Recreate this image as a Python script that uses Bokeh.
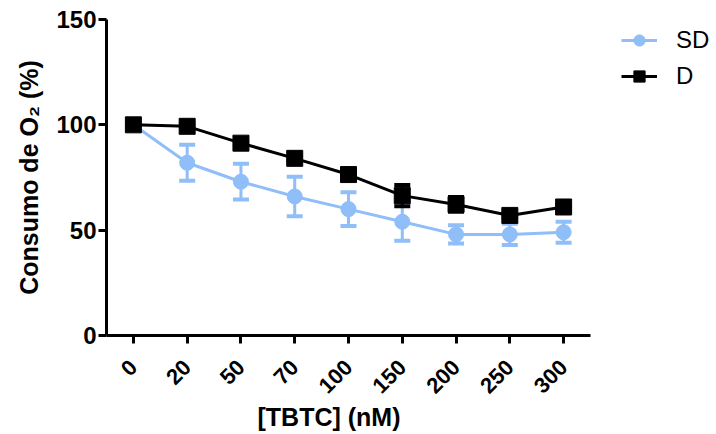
from bokeh.plotting import figure
from bokeh.models import FactorRange, Range1d, Whisker, ColumnDataSource, Legend, LegendItem, FixedTicker, Title
from bokeh.embed import file_html
from bokeh.resources import INLINE
import math

categories = ["0", "20", "50", "70", "100", "150", "200", "250", "300"]
sd_values = [100, 82, 73, 66, 60, 54, 48, 48, 49]
sd_errors = [0, 8.5, 8.5, 9.4, 8, 9, 4.3, 5, 5]
d_values = [100, 99.3, 91.3, 84.1, 76.4, 66.4, 62.2, 57, 61]
d_errors = [0, 1, 1, 1, 1, 5, 3.5, 1, 1]

BLUE = "#8fbef8"
FONT = "Liberation Sans"

p = figure(frame_width=484, frame_height=316, x_range=FactorRange(*categories, range_padding=0),
           y_range=Range1d(0, 150), output_backend="svg", toolbar_location=None,
           min_border_left=106, min_border_right=120, min_border_top=19, min_border_bottom=99)
p.outline_line_color = None
p.grid.visible = False
p.background_fill_color = "white"

sd_src = ColumnDataSource(dict(x=categories, y=sd_values,
                               lo=[v - e for v, e in zip(sd_values, sd_errors)],
                               hi=[v + e for v, e in zip(sd_values, sd_errors)]))
d_src = ColumnDataSource(dict(x=categories, y=d_values,
                              lo=[v - e for v, e in zip(d_values, d_errors)],
                              hi=[v + e for v, e in zip(d_values, d_errors)]))

sd_w = Whisker(source=sd_src, base="x", upper="hi", lower="lo", line_color=BLUE, line_width=3)
sd_w.upper_head.size = 16
sd_w.lower_head.size = 16
sd_w.upper_head.line_color = BLUE
sd_w.lower_head.line_color = BLUE
sd_w.upper_head.line_width = 4
sd_w.lower_head.line_width = 4
p.add_layout(sd_w)
sd_line = p.line("x", "y", source=sd_src, line_color=BLUE, line_width=3)
sd_mark = p.scatter("x", "y", source=sd_src, marker="circle", size=15, color=BLUE)

d_w = Whisker(source=d_src, base="x", upper="hi", lower="lo", line_color="black", line_width=3)
d_w.upper_head.size = 16
d_w.lower_head.size = 16
d_w.upper_head.line_width = 4
d_w.lower_head.line_width = 4
p.add_layout(d_w)
d_line = p.line("x", "y", source=d_src, line_color="black", line_width=3)
d_mark = p.scatter("x", "y", source=d_src, marker="square", size=16, color="black")

# axes
for ax in (p.xaxis, p.yaxis):
    ax.axis_line_width = 3
    ax.major_tick_line_width = 3
    ax.major_tick_out = 8
    ax.major_tick_in = 0
    ax.minor_tick_line_color = None
    ax.major_label_text_font = FONT
    ax.major_label_text_font_style = "bold"
    ax.major_label_text_font_size = "24px"
    ax.major_label_text_color = "black"
    ax.axis_label_text_font = FONT
    ax.axis_label_text_font_style = "bold"
    ax.axis_label_text_font_size = "25px"
    ax.axis_label_text_color = "black"

p.yaxis.ticker = FixedTicker(ticks=[0, 50, 100, 150])
p.yaxis.axis_label = "Consumo de O₂ (%)"
p.yaxis.axis_label_standoff = 10
p.yaxis.major_label_standoff = 2
p.xaxis.major_label_orientation = math.pi / 4
p.xaxis.major_label_standoff = 20
p.xaxis.major_label_text_font_size = "22px"

xtitle = Title(text="[TBTC] (nM)", align="left", offset=151, standoff=-5,
               text_font=FONT, text_font_style="bold", text_font_size="25px", text_color="black")
p.add_layout(xtitle, "below")

legend = Legend(items=[LegendItem(label="SD", renderers=[sd_line, sd_mark]),
                       LegendItem(label="D", renderers=[d_line, d_mark])],
                location=(31, 245), border_line_color=None, background_fill_alpha=0,
                label_text_font=FONT, label_text_font_size="24px", label_text_color="black",
                glyph_width=36, glyph_height=28, spacing=8, label_standoff=19,
                padding=0, margin=0)
p.add_layout(legend, "right")

open("out.html", "w").write(file_html(p, INLINE))
